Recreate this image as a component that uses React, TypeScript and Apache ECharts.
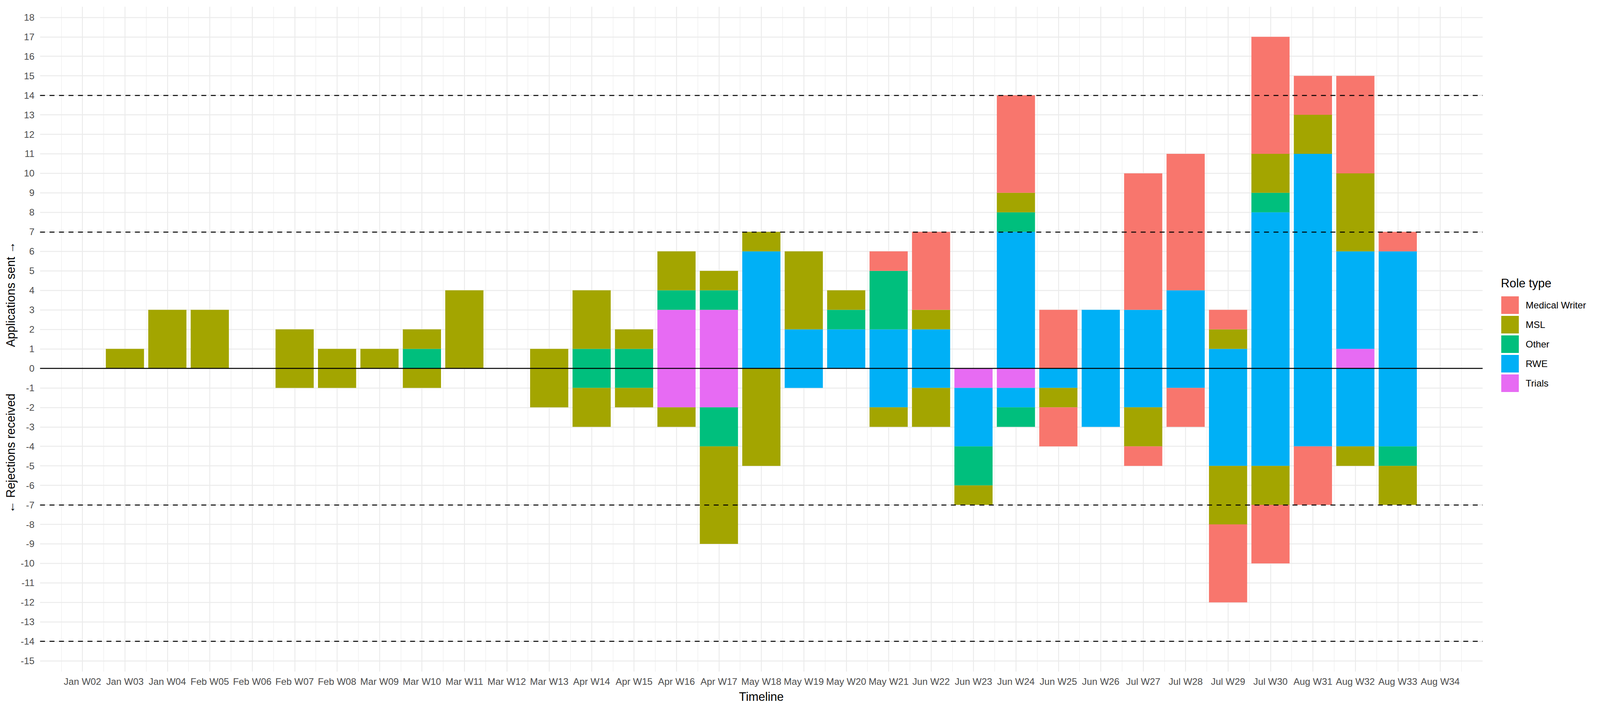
import { useEffect, useRef, useState } from 'react';
import * as echarts from 'echarts';

const categories = [
  'Jan W02', 'Jan W03', 'Jan W04', 'Feb W05', 'Feb W06', 'Feb W07', 'Feb W08', 'Mar W09', 'Mar W10',
  'Mar W11', 'Mar W12', 'Mar W13', 'Apr W14', 'Apr W15', 'Apr W16', 'Apr W17', 'May W18', 'May W19',
  'May W20', 'May W21', 'Jun W22', 'Jun W23', 'Jun W24', 'Jun W25', 'Jun W26', 'Jul W27', 'Jul W28',
  'Jul W29', 'Jul W30', 'Aug W31', 'Aug W32', 'Aug W33', 'Aug W34',
];

const legendOrder = ['Medical Writer', 'MSL', 'Other', 'RWE', 'Trials'];
const roleColors: Record<string, string> = {
  'Medical Writer': '#F8766D',
  MSL: '#A3A500',
  Other: '#00BF7D',
  RWE: '#00B0F6',
  Trials: '#E76BF3',
};

// Applications sent (positive)
const mwSent = [0, 0, 0, 0, 0, 0, 0, 0, 0, 0, 0, 0, 0, 0, 0, 0, 0, 0, 0, 1, 4, 0, 5, 3, 0, 7, 7, 1, 6, 2, 5, 1, 0];
const mslSent = [0, 1, 3, 3, 0, 2, 1, 1, 1, 4, 0, 1, 3, 1, 2, 1, 1, 4, 1, 0, 1, 0, 1, 0, 0, 0, 0, 1, 2, 2, 4, 0, 0];
const otherSent = [0, 0, 0, 0, 0, 0, 0, 0, 1, 0, 0, 0, 1, 1, 1, 1, 0, 0, 1, 3, 0, 0, 1, 0, 0, 0, 0, 0, 1, 0, 0, 0, 0];
const rweSent = [0, 0, 0, 0, 0, 0, 0, 0, 0, 0, 0, 0, 0, 0, 0, 0, 6, 2, 2, 2, 2, 0, 7, 0, 3, 3, 4, 1, 8, 11, 5, 6, 0];
const trialsSent = [0, 0, 0, 0, 0, 0, 0, 0, 0, 0, 0, 0, 0, 0, 3, 3, 0, 0, 0, 0, 0, 0, 0, 0, 0, 0, 0, 0, 0, 0, 1, 0, 0];

// Rejections received (negative)
const mwRej = [0, 0, 0, 0, 0, 0, 0, 0, 0, 0, 0, 0, 0, 0, 0, 0, 0, 0, 0, 0, 0, 0, 0, -2, 0, -1, -2, -4, -3, -3, 0, 0, 0];
const mslRej = [0, 0, 0, 0, 0, -1, -1, 0, -1, 0, 0, -2, -2, -1, -1, -5, -5, 0, 0, -1, -2, -1, 0, -1, 0, -2, 0, -3, -2, 0, -1, -2, 0];
const otherRej = [0, 0, 0, 0, 0, 0, 0, 0, 0, 0, 0, 0, -1, -1, 0, -2, 0, 0, 0, 0, 0, -2, -1, 0, 0, 0, 0, 0, 0, 0, 0, -1, 0];
const rweRej = [0, 0, 0, 0, 0, 0, 0, 0, 0, 0, 0, 0, 0, 0, 0, 0, 0, -1, 0, -2, -1, -3, -1, -1, -3, -2, -1, -5, -5, -4, -4, -4, 0];
const trialsRej = [0, 0, 0, 0, 0, 0, 0, 0, 0, 0, 0, 0, 0, 0, -2, -2, 0, 0, 0, 0, 0, -1, -1, 0, 0, 0, 0, 0, 0, 0, 0, 0, 0];

const thresholdLines = [14, 7, -7, -14];
const yMin = -15;
const yMax = 18;

const FONT = "'Liberation Sans', Arial, Helvetica, sans-serif";
const REF_W = 4553;
const REF_H = 1821;

export default function App() {
  const ref = useRef<HTMLDivElement>(null);
  const [size] = useState(() => {
    document.body.style.margin = '0';
    document.documentElement.style.overflow = 'hidden';
    return { w: window.innerWidth || REF_W, h: window.innerHeight || REF_H };
  });

  useEffect(() => {
    const chart = echarts.init(ref.current!, null, { renderer: 'svg' });
    const sx = size.w / REF_W;
    const sy = size.h / REF_H;
    const s = Math.min(sx, sy);
    const X = (v: number) => v * sx;
    const Y = (v: number) => v * sy;

    // layout in reference pixels
    const panelLeft = 114;
    const panelRight = 4219;
    const panelW = panelRight - panelLeft;
    const unit = panelW / 34;
    const plotTop = 44.3;
    const plotBottom = 1692.7;
    const panelTop = 17.3;
    const panelBottom = 1720;

    const padded = (arr: number[]) => [null, ...arr.map((v) => (v === 0 ? null : v)), null];
    const axisCats = ['', ...categories, ''];

    const stackOrder: [string, number[], number[]][] = [
      ['Trials', trialsSent, trialsRej],
      ['RWE', rweSent, rweRej],
      ['Other', otherSent, otherRej],
      ['MSL', mslSent, mslRej],
      ['Medical Writer', mwSent, mwRej],
    ];

    const barSeries: any[] = [];
    stackOrder.forEach(([name, sent, rej]) => {
      [sent, rej].forEach((vals) => {
        barSeries.push({
          type: 'bar',
          name,
          stack: 'total',
          xAxisIndex: 0,
          yAxisIndex: 0,
          barWidth: '90%',
          itemStyle: { color: roleColors[name], borderWidth: 0 },
          emphasis: { disabled: true },
          data: padded(vals),
        });
      });
    });

    const dash = [14 * s, 13 * s];
    const refLineSeries = {
      type: 'line',
      xAxisIndex: 0,
      yAxisIndex: 0,
      z: 10,
      symbol: 'none',
      data: axisCats.map(() => null),
      markLine: {
        silent: true,
        symbol: ['none', 'none'],
        label: { show: false },
        emphasis: { disabled: true },
        animation: false,
        data: [
          ...thresholdLines.map((v) => ({
            yAxis: v,
            lineStyle: { color: '#000000', width: 2.8 * s, type: dash },
          })),
          { yAxis: 0, lineStyle: { color: '#000000', width: 2.8 * s, type: 'solid' } },
        ],
      },
    };

    const titleStyle = (text: string, fs: number, align: string) => ({
      text,
      fill: '#000',
      fontSize: fs * s,
      fontFamily: FONT,
      align,
      verticalAlign: 'middle',
      textAlign: align,
      textVerticalAlign: 'middle',
    });

    const option: any = {
      animation: false,
      backgroundColor: '#ffffff',
      textStyle: { fontFamily: FONT },
      grid: [
        { left: X(panelLeft), width: X(panelW), top: Y(plotTop), height: Y(plotBottom - plotTop), containLabel: false, outerBoundsMode: 'none' },
        { left: X(panelLeft + unit), width: X(panelW - 2 * unit), top: Y(panelTop), height: Y(panelBottom - panelTop), containLabel: false, outerBoundsMode: 'none' },
        { left: X(panelLeft + unit / 2), width: X(panelW - unit), top: Y(panelTop), height: Y(panelBottom - panelTop), containLabel: false, outerBoundsMode: 'none' },
      ],
      xAxis: [
        {
          gridIndex: 0,
          type: 'category',
          data: axisCats,
          boundaryGap: false,
          axisLine: { show: false },
          axisTick: { show: false },
          axisLabel: { show: false },
          splitLine: { show: false },
        },
        {
          gridIndex: 1,
          type: 'value',
          min: 0,
          max: categories.length - 1,
          interval: 1,
          axisLine: { show: false },
          axisTick: { show: false },
          axisLabel: {
            show: true,
            margin: 13 * sy,
            fontSize: 27 * s,
            color: '#4D4D4D',
            fontFamily: FONT,
            showMinLabel: true,
            showMaxLabel: true,
            formatter: (v: number) => categories[Math.round(v)] ?? '',
          },
          splitLine: { show: true, lineStyle: { color: '#EBEBEB', width: 2.6 * s } },
        },
        {
          gridIndex: 2,
          type: 'value',
          min: 0,
          max: categories.length,
          interval: 1,
          axisLine: { show: false },
          axisTick: { show: false },
          axisLabel: { show: false },
          splitLine: { show: true, lineStyle: { color: '#EBEBEB', width: 1.3 * s } },
        },
      ],
      yAxis: [
        {
          gridIndex: 0,
          type: 'value',
          min: yMin,
          max: yMax,
          interval: 1,
          axisLine: { show: false },
          axisTick: { show: false },
          axisLabel: { margin: 16 * sx, fontSize: 27 * s, color: '#4D4D4D', fontFamily: FONT },
          splitLine: { show: true, lineStyle: { color: '#EBEBEB', width: 2.6 * s } },
        },
        { gridIndex: 1, type: 'value', min: 0, max: 1, show: false },
        { gridIndex: 2, type: 'value', min: 0, max: 1, show: false },
      ],
      legend: {
        data: legendOrder,
        orient: 'vertical',
        left: X(4272),
        top: Y(759),
        padding: 0,
        itemWidth: 50 * s,
        itemHeight: 50 * s,
        itemGap: 5 * sy,
        icon: 'rect',
        selectedMode: false,
        itemStyle: { borderWidth: 0 },
        textStyle: { fontSize: 27 * s, color: '#000000', fontFamily: FONT, padding: [0, 0, 0, 14 * s] },
      },
      graphic: [
        { type: 'text', x: X((panelLeft + panelRight) / 2), y: Y(1784), style: titleStyle('Timeline', 34, 'center') },
        { type: 'text', x: X(30), y: Y(753.7), rotation: Math.PI / 2, style: titleStyle('Applications sent \u2192', 34, 'center') },
        { type: 'text', x: X(30), y: Y(1161), rotation: Math.PI / 2, style: titleStyle('\u2190 Rejections received', 34, 'center') },
        { type: 'text', x: X(4271), y: Y(725), style: titleStyle('Role type', 34, 'left') },
      ],
      series: [...barSeries, refLineSeries],
    };

    chart.setOption(option);
    return () => chart.dispose();
  }, [size]);

  return <div ref={ref} style={{ width: size.w, height: size.h }} />;
}
